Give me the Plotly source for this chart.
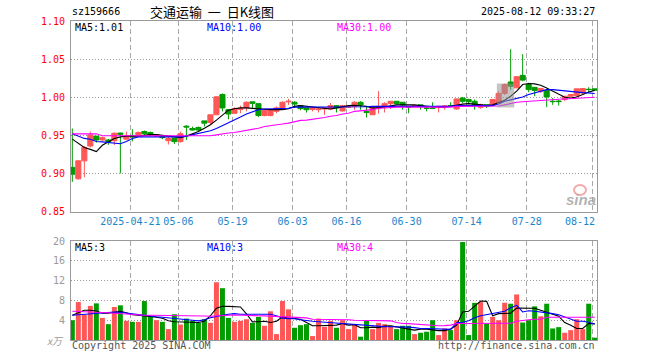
import plotly.graph_objects as go

# ---------------- data ----------------
opens = [0.908, 0.893, 0.9166, 0.936, 0.949, 0.944, 0.944, 0.943, 0.953, 0.945,
         0.9495, 0.9506, 0.955, 0.9537, 0.949, 0.9493, 0.943, 0.946, 0.9418, 0.962,
         0.959, 0.9603, 0.969, 0.967, 0.977, 1.0035, 0.9837, 0.979, 0.984, 0.986,
         0.994, 0.9916, 0.976, 0.976, 0.9815, 0.985, 0.994, 0.9934, 0.989, 0.986,
         0.984, 0.9837, 0.9846, 0.9846, 0.989, 0.982, 0.987, 0.988, 0.9934, 0.9815,
         0.977, 0.986, 0.988, 0.9916, 0.9947, 0.9934, 0.988, 0.988, 0.990, 0.986,
         0.9859, 0.9868, 0.988, 0.989, 0.9846, 0.999, 0.997, 0.9947, 0.9868, 0.990,
         0.990, 0.993, 1.005, 1.020, 1.0123, 1.0287, 1.0167, 1.013, 1.008, 1.009,
         0.9947, 0.995, 0.997, 1.0013, 1.0022, 1.0057, 1.0105, 1.011]
highs = [0.959, 0.9175, 0.936, 0.955, 0.949, 0.9484, 0.9453, 0.9537, 0.9535, 0.955,
         0.958, 0.955, 0.9563, 0.955, 0.9515, 0.9493, 0.9484, 0.946, 0.955, 0.9634,
         0.9616, 0.9616, 0.969, 0.977, 1.001, 1.005, 0.9837, 0.9868, 0.989, 0.9947,
         0.994, 0.9916, 0.983, 0.9837, 0.988, 0.9947, 0.998, 0.9947, 0.989, 0.986,
         0.9868, 0.987, 0.987, 0.9925, 0.989, 0.990, 0.989, 0.9947, 0.9947, 0.988,
         0.986, 1.008, 0.9934, 0.995, 0.995, 0.9934, 0.988, 0.990, 0.990, 0.988,
         0.9934, 0.988, 0.9885, 0.9934, 0.998, 1.0004, 0.998, 0.997, 0.9916, 0.990,
         0.998, 1.008, 1.018, 1.063, 1.027, 1.0565, 1.019, 1.013, 1.0123, 1.011,
         0.999, 0.997, 1.0013, 1.0035, 1.011, 1.012, 1.0132, 1.011]
lows = [0.889, 0.892, 0.895, 0.934, 0.9405, 0.9427, 0.9374, 0.9374, 0.900, 0.944,
        0.942, 0.949, 0.950, 0.949, 0.9485, 0.945, 0.938, 0.9387, 0.9405, 0.944,
        0.9563, 0.955, 0.9616, 0.965, 0.977, 0.9815, 0.971, 0.978, 0.979, 0.9815,
        0.986, 0.974, 0.975, 0.975, 0.979, 0.9837, 0.990, 0.986, 0.983, 0.980,
        0.9815, 0.980, 0.977, 0.9837, 0.980, 0.9815, 0.986, 0.9837, 0.9837, 0.9735,
        0.977, 0.9784, 0.980, 0.9846, 0.990, 0.9837, 0.979, 0.987, 0.9837, 0.9815,
        0.9846, 0.980, 0.9837, 0.988, 0.9837, 0.9925, 0.991, 0.9837, 0.985, 0.9859,
        0.989, 0.990, 1.003, 1.010, 1.012, 1.021, 1.0066, 1.0013, 1.0057, 0.987,
        0.990, 0.989, 0.9947, 1.000, 1.0004, 1.004, 1.0057, 1.009]
closes = [0.899, 0.9166, 0.934, 0.9506, 0.944, 0.947, 0.9418, 0.9528, 0.9515, 0.949,
          0.948, 0.9537, 0.952, 0.9506, 0.951, 0.947, 0.9458, 0.9418, 0.952, 0.961,
          0.957, 0.957, 0.966, 0.977, 1.0005, 0.986, 0.978, 0.985, 0.9855, 0.9934,
          0.992, 0.976, 0.983, 0.9837, 0.986, 0.9934, 0.9947, 0.991, 0.985, 0.9837,
          0.986, 0.9846, 0.986, 0.989, 0.986, 0.989, 0.988, 0.9934, 0.990, 0.980,
          0.986, 0.988, 0.9916, 0.9947, 0.9916, 0.990, 0.987, 0.989, 0.988, 0.9855,
          0.9855, 0.988, 0.9885, 0.9885, 0.9978, 0.9947, 0.994, 0.989, 0.990, 0.988,
          0.997, 1.005, 1.0167, 1.0145, 1.027, 1.0225, 1.010, 1.0088, 1.0115, 1.0004,
          0.9943, 0.9943, 1.0013, 1.0035, 1.011, 1.0115, 1.0101, 1.0092]

ma5 = [0.945, 0.9396, 0.934, 0.9316, 0.9288, 0.937, 0.942, 0.946, 0.948, 0.949,
       0.949, 0.949, 0.950, 0.951, 0.951, 0.950, 0.949, 0.948, 0.947, 0.949,
       0.952, 0.955, 0.9594, 0.964, 0.970, 0.977, 0.983, 0.985, 0.986, 0.986,
       0.9855, 0.9846, 0.9837, 0.9837, 0.9837, 0.9837, 0.985, 0.988, 0.989, 0.988,
       0.987, 0.986, 0.985, 0.9846, 0.986, 0.988, 0.989, 0.9894, 0.989, 0.988,
       0.986, 0.986, 0.987, 0.989, 0.990, 0.990, 0.990, 0.990, 0.989, 0.988,
       0.9875, 0.987, 0.987, 0.988, 0.990, 0.991, 0.9916, 0.991, 0.990, 0.9895,
       0.990, 0.9925, 0.996, 1.0013, 1.008, 1.0167, 1.018, 1.0175, 1.0158, 1.012,
       1.008, 1.0035, 1.000, 0.999, 1.0004, 1.0035, 1.007, 1.009]
ma10 = [0.952, 0.949, 0.946, 0.945, 0.942, 0.9415, 0.9405, 0.940, 0.939, 0.942,
        0.946, 0.948, 0.948, 0.948, 0.948, 0.948, 0.948, 0.948, 0.948, 0.949,
        0.9506, 0.952, 0.954, 0.956, 0.959, 0.9625, 0.966, 0.9705, 0.974, 0.978,
        0.9806, 0.9837, 0.9846, 0.9846, 0.985, 0.985, 0.9855, 0.987, 0.987, 0.987,
        0.987, 0.987, 0.987, 0.987, 0.987, 0.987, 0.987, 0.987, 0.9875, 0.9875,
        0.988, 0.988, 0.988, 0.988, 0.988, 0.988, 0.988, 0.988, 0.988, 0.988,
        0.988, 0.988, 0.988, 0.988, 0.989, 0.989, 0.989, 0.989, 0.989, 0.989,
        0.989, 0.991, 0.9947, 0.9965, 0.998, 1.0004, 1.0035, 1.006, 1.008, 1.010,
        1.010, 1.009, 1.008, 1.007, 1.0066, 1.006, 1.0057, 1.005]
ma30 = [0.952, 0.952, 0.952, 0.952, 0.952, 0.9495, 0.9495, 0.9495, 0.9495, 0.9495,
        0.9495, 0.9495, 0.9495, 0.9495, 0.9495, 0.9495, 0.9495, 0.9495, 0.9495, 0.9495,
        0.9495, 0.9495, 0.9495, 0.9495, 0.9506, 0.952, 0.953, 0.9537, 0.955, 0.9563,
        0.958, 0.9594, 0.9616, 0.963, 0.964, 0.965, 0.966, 0.968, 0.9696, 0.970,
        0.971, 0.9727, 0.9735, 0.975, 0.976, 0.978, 0.979, 0.9815, 0.982, 0.983,
        0.9837, 0.9855, 0.9863, 0.987, 0.987, 0.987, 0.987, 0.987, 0.987, 0.987,
        0.987, 0.987, 0.987, 0.987, 0.988, 0.988, 0.988, 0.988, 0.988, 0.988,
        0.988, 0.9885, 0.990, 0.992, 0.9934, 0.994, 0.9947, 0.995, 0.9956, 0.9963,
        0.997, 0.9973, 0.9977, 0.998, 0.9985, 0.999, 0.9995, 1.000]

volumes = [4.0, 7.67, 5.1, 6.9, 7.4, 4.47, 3.2, 6.67, 7.0, 3.87,
           3.67, 3.67, 7.87, 4.8, 4.0, 3.67, 2.2, 5.2, 3.13, 4.33,
           3.87, 3.47, 4.2, 3.47, 11.67, 10.47, 4.47, 3.67, 3.87, 4.2,
           3.47, 4.67, 2.87, 5.8, 1.2, 7.87, 6.2, 2.47, 3.0, 3.2,
           0.8, 4.33, 2.67, 3.87, 2.47, 4.0, 2.2, 3.0, 0.67, 3.87,
           2.2, 3.47, 3.2, 2.87, 2.2, 2.87, 2.87, 1.2, 1.47, 1.67,
           4.0, 1.0, 2.33, 2.0, 4.0, 19.8, 1.0, 7.5, 7.67, 3.33,
           4.67, 4.0, 7.53, 7.33, 9.2, 3.53, 4.0, 6.8, 4.8, 7.33,
           2.33, 2.6, 1.47, 2.0, 4.2, 2.2, 7.33, 0.47]
vol_ma5 = [5.0, 5.5, 6.0, 6.0, 5.85, 5.4, 5.4, 5.6, 5.8, 5.5,
           5.1, 5.0, 4.9, 4.7, 4.6, 4.4, 3.9, 3.7, 3.67, 3.6,
           3.53, 3.53, 3.8, 4.9, 6.4, 6.8, 6.8, 6.8, 6.67, 5.3,
           3.67, 3.7, 3.8, 3.53, 3.8, 4.67, 4.4, 4.33, 4.2, 3.53,
           2.87, 2.87, 2.9, 3.0, 3.0, 3.33, 3.0, 3.1, 2.47, 2.47,
           2.6, 2.5, 2.8, 2.87, 2.6, 2.33, 2.2, 2.0, 2.2, 2.2,
           2.0, 1.9, 1.9, 2.2, 3.0, 5.67, 5.8, 6.9, 7.87, 7.8,
           4.9, 5.33, 5.33, 5.4, 6.47, 6.47, 6.47, 6.4, 6.0, 5.53,
           5.2, 4.8, 3.53, 3.0, 2.33, 2.33, 3.33, 3.3]
vol_ma10 = [5.0, 5.1, 5.2, 5.33, 5.4, 5.5, 5.6, 5.67, 5.6, 5.4,
            5.2, 5.13, 5.0, 4.8, 4.7, 4.6, 4.5, 4.4, 4.33, 4.2,
            4.0, 3.87, 4.1, 4.5, 4.8, 5.0, 5.2, 5.33, 5.2, 5.2,
            5.2, 5.3, 5.33, 5.2, 4.9, 4.4, 4.3, 4.3, 4.1, 3.9,
            3.8, 3.7, 3.6, 3.53, 3.5, 3.4, 3.2, 3.15, 3.0, 2.9,
            2.87, 2.8, 2.7, 2.67, 2.67, 2.67, 2.6, 2.5, 2.33, 2.33,
            2.25, 2.2, 2.1, 2.15, 3.5, 3.6, 3.9, 4.5, 4.9, 5.1,
            5.33, 5.45, 5.8, 6.5, 7.0, 5.67, 5.9, 5.8, 5.67, 5.6,
            5.33, 5.1, 4.67, 4.2, 3.8, 3.8, 3.6, 3.2]
vol_ma30 = [5.8, 5.75, 5.75, 5.75, 5.75, 5.6, 5.5, 5.4, 5.3, 5.2,
            5.1, 5.0, 5.0, 5.0, 5.0, 5.0, 5.0, 5.0, 5.0, 5.0,
            5.0, 4.95, 4.85, 4.8, 4.9, 5.0, 5.0, 5.05, 5.05, 5.05,
            5.05, 4.9, 4.87, 4.8, 4.8, 4.8, 4.7, 4.6, 4.5, 4.47,
            4.2, 4.2, 4.2, 4.2, 4.2, 4.2, 4.1, 4.0, 4.0, 3.9,
            3.9, 3.9, 3.9, 3.87, 3.53, 3.33, 3.3, 3.2, 3.1, 3.0,
            2.95, 2.87, 2.9, 3.0, 3.33, 3.33, 3.33, 3.33, 3.33, 3.33,
            3.33, 3.33, 3.33, 3.4, 3.8, 4.0, 4.1, 4.2, 4.2, 4.6,
            4.6, 4.6, 4.6, 4.6, 4.6, 4.6, 4.6, 4.6]

tick_index = [10, 18, 27, 37, 46, 56, 66, 76, 87]
tick_labels = ["2025-04-21", "05-06", "05-19", "06-03", "06-16", "06-30", "07-14", "07-28", "08-12"]
price_ticks = [0.85, 0.90, 0.95, 1.00, 1.05, 1.10]
vol_ticks = [4, 8, 12, 16, 20]

code = "sz159666"
title = "交通运输\u00a0\u00a0一\u00a0\u00a0日K线图"
stamp = "2025-08-12 09:33:27"

# ---------------- styling ----------------
RED = "#ff5757"
GREEN = "#009c00"
MONO = "DejaVu Sans Mono"
idx = list(range(len(closes)))

W, H = 660, 360
L, R, T, B = 71, 597, 21, 340


def px(x):
    return (x - L) / (R - L)


def py(y):
    return (B - y) / (B - T)


fig = go.Figure()
fig.add_trace(go.Candlestick(
    x=idx, open=opens, high=highs, low=lows, close=closes,
    increasing=dict(line=dict(color=RED, width=1), fillcolor=RED),
    decreasing=dict(line=dict(color=GREEN, width=1), fillcolor=GREEN),
    whiskerwidth=0, xaxis="x", yaxis="y", hoverinfo="skip", showlegend=False))
for arr, col in [(ma5, "#000000"), (ma10, "#0000ff"), (ma30, "#ff00ff")]:
    fig.add_trace(go.Scatter(x=idx, y=arr, mode="lines", line=dict(color=col, width=1.1),
                             xaxis="x", yaxis="y", hoverinfo="skip", showlegend=False))

vcolors = [RED if c >= o else GREEN for o, c in zip(opens, closes)]
fig.add_trace(go.Bar(x=idx, y=volumes, marker=dict(color=vcolors, line=dict(width=0)),
                     xaxis="x2", yaxis="y2", hoverinfo="skip", showlegend=False))
for arr, col in [(vol_ma5, "#000000"), (vol_ma10, "#0000ff"), (vol_ma30, "#ff00ff")]:
    fig.add_trace(go.Scatter(x=idx, y=arr, mode="lines", line=dict(color=col, width=1.1),
                             xaxis="x2", yaxis="y2", hoverinfo="skip", showlegend=False))

xr = [-0.22, 87.38]
grid_x = [i - 0.33 for i in tick_index]
# last label is pulled inside the frame in the reference -> drawn as annotation
tick_text_axis = tick_labels[:-1] + [""]
axis_common = dict(showline=True, linecolor="#9a9a9a", linewidth=1, mirror=True,
                   zeroline=False, ticks="", fixedrange=True)

fig.update_layout(
    width=W, height=H,
    margin=dict(l=L, r=W - R, t=T, b=H - B),
    paper_bgcolor="white", plot_bgcolor="white",
    showlegend=False, hovermode=False,
    bargap=0.17, boxgap=0.15, boxgroupgap=0,
    font=dict(family=MONO, size=10, color="#000"),
    xaxis=dict(domain=[0, 1], range=xr, anchor="y", tickvals=grid_x, ticktext=tick_text_axis,
               tickfont=dict(family=MONO, size=10, color="#1c86cc"),
               showgrid=True, gridcolor="#a8a8a8", griddash="5px,3px", gridwidth=1,
               rangeslider=dict(visible=False), **axis_common),
    yaxis=dict(domain=[0.4025, 1.0], range=[0.85, 1.10], anchor="x",
               tickvals=price_ticks, ticktext=[f"{v:.2f}" for v in price_ticks],
               tickfont=dict(family=MONO, size=10, color="#ff0000"), ticklabelstandoff=3,
               showgrid=True, gridcolor="#9a9a9a", griddash="1px,2px", gridwidth=1,
               **axis_common),
    xaxis2=dict(domain=[0, 1], range=xr, anchor="y2", matches="x", tickvals=grid_x,
                showticklabels=False, showgrid=True, gridcolor="#a8a8a8",
                griddash="5px,3px", gridwidth=1, **axis_common),
    yaxis2=dict(domain=[0, 0.3103], range=[0, 20], anchor="x2", tickvals=vol_ticks,
                ticktext=[str(v) for v in vol_ticks], ticklabelstandoff=3,
                tickfont=dict(family=MONO, size=10, color="#999999"),
                showgrid=True, gridcolor="#9a9a9a", griddash="1px,2px", gridwidth=1,
                **axis_common),
)

ann = []


def text(x, y, s, color="#000", size=10, xanchor="left", family=MONO, **kw):
    ann.append(dict(x=px(x), y=py(y), xref="paper", yref="paper", text=s, showarrow=False,
                    xanchor=xanchor, yanchor="middle",
                    font=dict(family=family, size=size, color=color), **kw))


text(70, 12, code)
text(212, 12, title, size=13, xanchor="center", family="Noto Sans CJK SC")
text(597, 12, stamp, xanchor="right")
text(73, 27.5, f"MA5:{ma5[-1]:.2f}")
text(205, 27.5, f"MA10:{ma10[-1]:.2f}", color="#0000ff")
text(335, 27.5, f"MA30:{ma30[-1]:.2f}", color="#ff00ff")
text(73, 247.5, f"MA5:{int(vol_ma5[-1])}")
text(205, 247.5, f"MA10:{int(vol_ma10[-1])}", color="#0000ff")
text(335, 247.5, f"MA30:{int(vol_ma30[-1])}", color="#ff00ff")
text(580, 221.5, tick_labels[-1], color="#1c86cc", xanchor="center")
text(66, 340.5, "<i>x万</i>", color="#999999", xanchor="right", family="Noto Sans CJK SC", size=10)
text(70, 345.5, "Copyright 2025 SINA.COM", color="#555555")
text(597, 345.5, "http://finance.sina.com.cn", color="#555555", xanchor="right")
text(581, 200, "<b><i>sina</i></b>", color="rgba(165,165,165,0.85)", size=15,
     xanchor="center", family="Liberation Sans")
fig.update_layout(annotations=ann)

# sina eye logo (decoration) and the semi-transparent thumbnail overlay in the reference
fig.add_shape(type="circle", xref="paper", yref="paper",
              x0=px(574), x1=px(586), y0=py(195), y1=py(185),
              line=dict(color="rgba(240,140,140,0.75)", width=2), fillcolor="rgba(0,0,0,0)")
fig.add_shape(type="rect", xref="x", yref="y", x0=70.7, x1=73.6, y0=0.9864, y1=1.018,
              fillcolor="rgba(150,150,150,0.55)", line=dict(width=0), layer="above")

fig.write_html("out.html", config={"displayModeBar": False, "staticPlot": True},
               post_script="document.body.style.margin='0';document.body.style.overflow='hidden';")
